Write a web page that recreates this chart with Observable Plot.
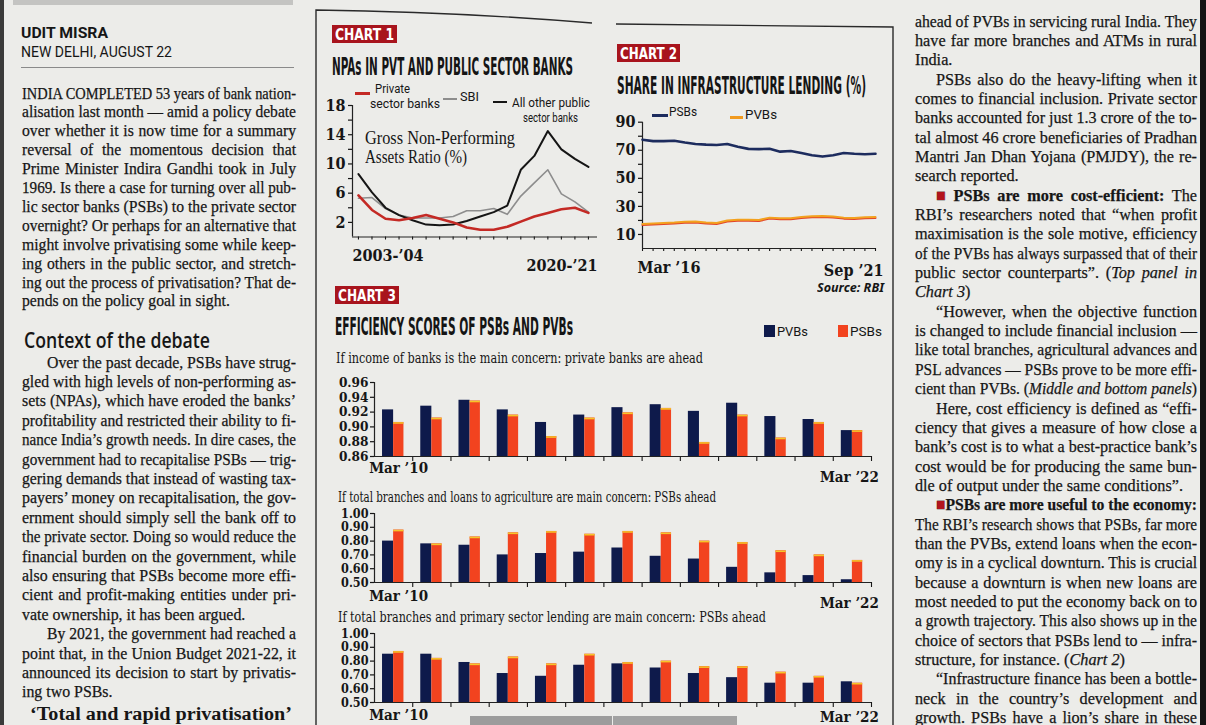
<!DOCTYPE html>
<html><head><meta charset="utf-8">
<script src="https://cdn.jsdelivr.net/npm/d3@7"></script>
<script src="https://cdn.jsdelivr.net/npm/@observablehq/plot@0.6"></script>
<style>
html,body{margin:0;padding:0;}
body{width:1206px;height:725px;overflow:hidden;position:relative;background:#ecece9;color:#161616;}
svg{overflow:visible;}
.col{-webkit-text-stroke:0.25px #161616;}
</style></head><body>
<script>
// ---------------- DATA ----------------
// Chart 1: Gross NPA ratio (%)
const npaYears = ["2003-04","2004-05","2005-06","2006-07","2007-08","2008-09","2009-10","2010-11","2011-12","2012-13","2013-14","2014-15","2015-16","2016-17","2017-18","2018-19","2019-20","2020-21"];
const npaPrivate = [5.7,3.7,2.5,2.3,2.6,3.0,2.5,2.0,1.3,1.0,1.0,1.4,2.1,2.8,3.3,3.8,4.0,3.3];
const npaSBI     = [5.3,5.4,3.9,3.0,2.6,2.6,2.6,2.8,3.6,3.6,3.9,3.1,5.6,7.4,9.2,5.9,4.8,3.4];
const npaOther   = [8.6,6.1,4.0,3.0,2.3,1.7,1.6,1.7,2.2,2.8,3.4,4.3,9.2,11.1,14.5,12.0,10.7,9.6];
const npaTickLabels = [2,6,10,14,18];
const npaEndLabels = ["2003-’04","2020-’21"];

// Chart 2: Share in infrastructure lending (%)
const infraQuarters = ["Mar-16","Jun-16","Sep-16","Dec-16","Mar-17","Jun-17","Sep-17","Dec-17","Mar-18","Jun-18","Sep-18","Dec-18","Mar-19","Jun-19","Sep-19","Dec-19","Mar-20","Jun-20","Sep-20","Dec-20","Mar-21","Jun-21","Sep-21"];
const infraPSB = [77.5,76.5,76.5,76.8,75.5,74.5,74.0,73.8,74.5,72.5,71.0,70.8,71.0,69.0,69.5,68.0,66.5,65.5,66.5,68.0,67.5,67.2,67.5];
const infraPVB = [17.5,17.8,18.2,18.5,19.0,19.3,18.5,18.2,20.0,20.5,20.5,20.3,22.0,21.5,21.5,22.5,23.0,23.2,22.8,22.0,21.8,22.2,22.5];
const infraTickLabels = [10,30,50,70,90];
const infraEndLabels = ["Mar ’16","Sep ’21"];

// Chart 3: Efficiency scores
const effYears = ["Mar’10","Mar’11","Mar’12","Mar’13","Mar’14","Mar’15","Mar’16","Mar’17","Mar’18","Mar’19","Mar’20","Mar’21","Mar’22"];
const effEndLabels = ["Mar ’10","Mar ’22"];
const incomePVB = [0.923,0.928,0.936,0.923,0.906,0.916,0.926,0.930,0.921,0.932,0.914,0.910,0.895];
const incomePSB = [0.906,0.912,0.935,0.916,0.887,0.912,0.919,0.925,0.879,0.916,0.885,0.906,0.895];
const agriPVB = [0.80,0.78,0.77,0.70,0.71,0.72,0.75,0.69,0.67,0.61,0.57,0.55,0.52];
const agriPSB = [0.88,0.78,0.83,0.86,0.87,0.85,0.87,0.86,0.80,0.79,0.73,0.70,0.66];
const primPVB = [0.85,0.85,0.79,0.71,0.69,0.77,0.78,0.75,0.71,0.68,0.64,0.64,0.65];
const primPSB = [0.87,0.82,0.78,0.83,0.78,0.85,0.79,0.80,0.76,0.76,0.72,0.69,0.64];
const incomeTicks = [0.86,0.88,0.90,0.92,0.94,0.96];
const shareTicks = [0.50,0.60,0.70,0.80,0.90,1.00];

// ---------------- TEXT ----------------
const leftP1 = [
 "INDIA COMPLETED 53 years of bank nation-",
 "alisation last month — amid a policy debate",
 "over whether it is now time for a summary",
 "reversal of the momentous decision that",
 "Prime Minister Indira Gandhi took in July",
 "1969. Is there a case for turning over all pub-",
 "lic sector banks (PSBs) to the private sector",
 "overnight? Or perhaps for an alternative that",
 "might involve privatising some while keep-",
 "ing others in the public sector, and stretch-",
 "ing out the process of privatisation? That de-",
 "pends on the policy goal in sight."];
const leftP2 = [
 "Over the past decade, PSBs have strug-",
 "gled with high levels of non-performing as-",
 "sets (NPAs), which have eroded the banks’",
 "profitability and restricted their ability to fi-",
 "nance India’s growth needs. In dire cases, the",
 "government had to recapitalise PSBs — trig-",
 "gering demands that instead of wasting tax-",
 "payers’ money on recapitalisation, the gov-",
 "ernment should simply sell the bank off to",
 "the private sector. Doing so would reduce the",
 "financial burden on the government, while",
 "also ensuring that PSBs become more effi-",
 "cient and profit-making entities under pri-",
 "vate ownership, it has been argued.",
 "By 2021, the government had reached a",
 "point that, in the Union Budget 2021-22, it",
 "announced its decision to start by privatis-",
 "ing two PSBs."];
const leftP2Indent = [0,14];
const leftP2Last = [13,17];
const sq = '<span style="color:#b3141d">■</span>';
const rightCol = [
 "ahead of PVBs in servicing rural India. They",
 "have far more branches and ATMs in rural",
 "India.",
 "PSBs also do the heavy-lifting when it",
 "comes to financial inclusion. Private sector",
 "banks accounted for just 1.3 crore of the to-",
 "tal almost 46 crore beneficiaries of Pradhan",
 "Mantri Jan Dhan Yojana (PMJDY), the re-",
 "search reported.",
 sq+" <b>PSBs are more cost-efficient:</b> The",
 "RBI’s researchers noted that “when profit",
 "maximisation is the sole motive, efficiency",
 "of the PVBs has always surpassed that of their",
 "public sector counterparts”. (<i>Top panel in</i>",
 "<i>Chart 3</i>)",
 "“However, when the objective function",
 "is changed to include financial inclusion —",
 "like total branches, agricultural advances and",
 "PSL advances — PSBs prove to be more effi-",
 "cient than PVBs. (<i>Middle and bottom panels</i>)",
 "Here, cost efficiency is defined as “effi-",
 "ciency that gives a measure of how close a",
 "bank’s cost is to what a best-practice bank’s",
 "cost would be for producing the same bun-",
 "dle of output under the same conditions”.",
 sq+"<b>PSBs are more useful to the economy:</b>",
 "The RBI’s research shows that PSBs, far more",
 "than the PVBs, extend loans when the econ-",
 "omy is in a cyclical downturn. This is crucial",
 "because a downturn is when new loans are",
 "most needed to put the economy back on to",
 "a growth trajectory. This also shows up in the",
 "choice of sectors that PSBs lend to — infra-",
 "structure, for instance. (<i>Chart 2</i>)",
 "“Infrastructure finance has been a bottle-",
 "neck in the country’s development and",
 "growth. PSBs have a lion’s share in these"];
const rightIndent = [3,9,15,20,25,34];
const rightLast = [2,8,14,24,33];

// ---------------- HELPERS ----------------
const BODY = "'Liberation Serif','DejaVu Serif',serif";
const CSERIF = "'DejaVu Serif Condensed','DejaVu Serif',serif";
const NARROW = "'Liberation Sans Narrow','DejaVu Sans Condensed','Roboto',sans-serif";
const SANS = "'Roboto','Liberation Sans',sans-serif";
const TICKF = "'DejaVu Serif Condensed','DejaVu Serif',serif";
const page = document.body;
function box(css){const e=document.createElement("div");Object.assign(e.style,{position:"absolute"},css);page.appendChild(e);return e;}
function txt(html,x,cy,o={}){
  const size=o.size||16, lh=o.lh||Math.round(size*1.25);
  const d=box({left:x+"px",top:(cy-lh/2)+"px",lineHeight:lh+"px",fontSize:size+"px",fontFamily:o.font||BODY,
    fontWeight:o.weight||"normal",fontStyle:o.fstyle||"normal",color:o.color||"#161616",whiteSpace:"nowrap",transformOrigin:"0 50%",letterSpacing:(o.ls||0)+"px"});
  if(o.cls) d.className=o.cls;
  const s=document.createElement("span");s.innerHTML=html;d.appendChild(s);
  if(o.w){const w=s.getBoundingClientRect().width; d.style.transform=`scaleX(${o.w/w})`;}
  return d;
}
function column(lines,x0,indentX,right,cy0,lh,size,indents,lasts){
  const items=lines.map((h,i)=>{
    const x=indents.includes(i)?indentX:x0;
    const d=txt(h,x,cy0+i*lh,{size,lh:Math.round(lh),cls:"col"});
    const s=d.firstChild; const w=s.getBoundingClientRect().width;
    return {d,w,W:right-x,last:lasts.includes(i),n:(s.textContent.match(/ /g)||[]).length};
  });
  const ratios=items.filter(t=>!t.last).map(t=>t.W/t.w).sort((a,b)=>a-b);
  const m=Math.min(1,ratios[Math.floor(ratios.length/2)]);
  items.forEach(t=>{
    if(t.last){t.d.style.transform=`scaleX(${m})`;return;}
    const target=t.W/m;
    if(t.w<target&&t.n){t.d.style.wordSpacing=((target-t.w)/t.n)+"px";t.d.style.transform=`scaleX(${m})`;}
    else t.d.style.transform=`scaleX(${t.W/t.w})`;
  });
}
function mount(svg,x,y){svg.style.position="absolute";svg.style.left=x+"px";svg.style.top=y+"px";page.appendChild(svg);}
function chartTag(label,x,y,w,h){
  box({left:x+"px",top:y+"px",width:w+"px",height:h+"px",background:"#a8141d"});
  txt(label,x+3,y+h/2+0.5,{font:NARROW,weight:"bold",size:16,color:"#fff",w:w-6});
}
const axStyle={background:"transparent",fontFamily:TICKF,fontWeight:"bold",fontSize:"15px",color:"#161616",overflow:"visible"};

// ---------------- PAGE DECOR ----------------
box({left:"0px",top:"0px",width:"4px",height:"725px",background:"#3a3a3a"});
box({left:"1200px",top:"0px",width:"6px",height:"725px",background:"#141414"});
box({left:"13px",top:"0px",width:"280px",height:"5px",background:"#c4c4c2"});
box({left:"21px",top:"67px",width:"273px",height:"1px",background:"#8a8a8a"});
box({left:"470px",top:"716px",width:"142px",height:"12px",background:"#9c9c9c"});
box({left:"613px",top:"716px",width:"124px",height:"12px",background:"#a2a2a2"});
const ns="http://www.w3.org/2000/svg";
const frame=document.createElementNS(ns,"svg");
frame.setAttribute("width","1206");frame.setAttribute("height","725");
frame.style.cssText="position:absolute;left:0;top:0;pointer-events:none";
frame.innerHTML='<path d="M316,725 L316,10 Q460,12 592,23" fill="none" stroke="#2a2a2a" stroke-width="1.4"/><path d="M616,24 L893,27 L893,725" fill="none" stroke="#2a2a2a" stroke-width="1.4"/>';
page.appendChild(frame);

// ---------------- LEFT & RIGHT TEXT ----------------
txt("UDIT MISRA",21,33,{font:SANS,weight:"bold",size:15,w:87});
txt("NEW DELHI, AUGUST 22",21,52,{font:SANS,size:15,w:151});
column(leftP1,22,22,296,93,18.9,17,[],[11]);
txt("Context of the debate",24,340,{font:"'Open Sans','Noto Sans',sans-serif",weight:"600",size:21,w:186});
column(leftP2,22,47,296,362,19.4,17,leftP2Indent,leftP2Last);
txt("‘Total and rapid privatisation’",30,714,{font:BODY,weight:"bold",size:18,w:262});
column(rightCol,915,936,1197,21,19.35,17,rightIndent,rightLast);

// ---------------- CHART 1 ----------------
chartTag("CHART 1",332,25,65,18);
txt("NPAs IN PVT AND PUBLIC SECTOR BANKS",332,67,{font:NARROW,weight:"bold",size:24,w:241,color:"#151515"});
box({left:"355px",top:"92px",width:"15px",height:"3px",background:"#c42a25"});
txt("Private",375,89,{font:SANS,size:12.5,w:35});
txt("sector banks",370,104,{font:SANS,size:12.5,w:70});
box({left:"443px",top:"98px",width:"14px",height:"2px",background:"#8d8d8d"});
txt("SBI",460,97,{font:SANS,size:12.5,w:19});
box({left:"493px",top:"101px",width:"14px",height:"2px",background:"#151515"});
txt("All other public",512,103,{font:SANS,size:12.5,w:78});
txt("sector banks",523,118,{font:SANS,size:12.5,w:55});
txt("Gross Non-Performing",365,138,{font:BODY,size:19,w:150});
txt("Assets Ratio (%)",365,157,{font:BODY,size:19,w:102});

const npaIdx = npaYears.map((_,i)=>i);
const npaPt = arr => arr.map((v,i)=>({i,v}));
mount(Plot.plot({
  width:285,height:180,marginLeft:32,marginRight:8,marginTop:10,marginBottom:38.5,
  x:{domain:[-0.44,npaYears.length-1+0.67]},y:{domain:[0,18]},style:axStyle,
  marks:[
    Plot.axisY({ticks:d3.range(2,19,2),tickSize:4,tickPadding:3,label:null,strokeWidth:1.2,
      tickFormat:d=>npaTickLabels.includes(d)?String(d):"",fontSize:16}),
    Plot.axisX({ticks:npaIdx,tickSize:3,tickFormat:()=>"",label:null,strokeWidth:1.1}),
    Plot.ruleX([-0.44],{stroke:"#222",strokeWidth:1.2}),
    Plot.ruleY([0],{stroke:"#222",strokeWidth:1.2}),
    Plot.line(npaPt(npaSBI),{x:"i",y:"v",stroke:"#8d8d8d",strokeWidth:1.6}),
    Plot.line(npaPt(npaOther),{x:"i",y:"v",stroke:"#151515",strokeWidth:2}),
    Plot.line(npaPt(npaPrivate),{x:"i",y:"v",stroke:"#c42a25",strokeWidth:2.6}),
    Plot.text([npaEndLabels[0]],{x:-0.44,y:0,text:d=>d,textAnchor:"start",dy:19,fontSize:16}),
    Plot.text([npaEndLabels[1]],{x:npaYears.length-1+0.67,y:0,text:d=>d,textAnchor:"end",dy:29,fontSize:16})
  ]
}),320,95);

// ---------------- CHART 2 ----------------
chartTag("CHART 2",617,44,63,18);
txt("SHARE IN INFRASTRUCTURE LENDING (%)",617,86,{font:NARROW,weight:"bold",size:24,w:249,color:"#151515"});
box({left:"652px",top:"114px",width:"16px",height:"3px",background:"#1d2c5e"});
txt("PSBs",669,112,{font:SANS,size:13,w:28});
box({left:"730px",top:"116px",width:"13px",height:"3px",background:"#f19a1e"});
txt("PVBs",745,115,{font:SANS,size:13,w:32});
txt("Source: RBI",817,287,{font:"'Noto Sans','DejaVu Sans',sans-serif",weight:"bold",fstyle:"italic",size:12,w:67});

const infraIdx = infraQuarters.map((_,i)=>i);
const q = arr => arr.map((v,i)=>({i,v}));
mount(Plot.plot({
  width:285,height:170,marginLeft:27,marginRight:25,marginTop:11.7,marginBottom:32,
  x:{domain:[0,infraQuarters.length-1]},y:{domain:[0,90]},style:axStyle,
  marks:[
    Plot.axisY({ticks:d3.range(10,91,10),tickSize:4,tickPadding:3,label:null,strokeWidth:1.2,
      tickFormat:d=>infraTickLabels.includes(d)?String(d):"",fontSize:16}),
    Plot.axisX({ticks:infraIdx,tickSize:3,tickFormat:()=>"",label:null,strokeWidth:1.1}),
    Plot.ruleX([0],{stroke:"#222",strokeWidth:1.2}),
    Plot.ruleY([0],{stroke:"#222",strokeWidth:1.2}),
    Plot.line(q(infraPSB),{x:"i",y:"v",stroke:"#1d2c5e",strokeWidth:2.6}),
    Plot.line(q(infraPVB),{x:"i",y:"v",stroke:"#e2452a",strokeWidth:2,dy:1}),
    Plot.line(q(infraPVB),{x:"i",y:"v",stroke:"#f3a21f",strokeWidth:2}),
    Plot.text([infraEndLabels[0]],{x:0,y:0,text:d=>d,textAnchor:"start",dx:-5,dy:19,fontSize:16}),
    Plot.text([infraEndLabels[1]],{x:infraQuarters.length-1,y:0,text:d=>d,textAnchor:"end",dx:8,dy:22,fontSize:16})
  ]
}),615,110);

// ---------------- CHART 3 ----------------
chartTag("CHART 3",335,286,64,18);
txt("EFFICIENCY SCORES OF PSBs AND PVBs",335,327,{font:NARROW,weight:"bold",size:24,w:238,color:"#151515"});
box({left:"764px",top:"325px",width:"11px",height:"12px",background:"#0e1a4b"});
txt("PVBs",777,331,{font:SANS,size:13.5,w:31});
box({left:"838px",top:"325px",width:"10px",height:"12px",background:"#f2431f"});
txt("PSBs",850,331,{font:SANS,size:13.5,w:32});

const NAVY="#0e1a4b", ORANGE="#f2431f", YEL="#f6c52a";
function effPanel(pvb,psb,ticks,top,H,mt,mb,dyL,dyR,tfs){
  const ymin=ticks[0], ymax=ticks[ticks.length-1];
  const a=pvb.map((v,i)=>({i,v})), b=psb.map((v,i)=>({i,v}));
  const n=effYears.length;
  mount(Plot.plot({
    width:560,height:H,marginLeft:44,marginRight:19,marginTop:mt,marginBottom:mb,
    x:{domain:[-0.5,n-0.5]},y:{domain:[ymin,ymax]},style:{...axStyle,fontSize:"14px"},
    marks:[
      Plot.rect(a,{x1:d=>d.i-0.29,x2:d=>d.i,y1:ymin,y2:"v",fill:NAVY}),
      Plot.rect(b,{x1:d=>d.i,x2:d=>d.i+0.27,y1:ymin,y2:"v",fill:ORANGE}),
      Plot.ruleY(b,{x1:d=>d.i,x2:d=>d.i+0.27,y:"v",stroke:YEL,strokeWidth:1.6,dy:0.5}),
      Plot.axisY({ticks,tickSize:4,tickPadding:2,label:null,strokeWidth:1.2,tickFormat:d=>d.toFixed(2),fontSize:tfs}),
      Plot.axisX({ticks:d3.range(0.5,n,1),tickSize:5,tickFormat:()=>"",label:null,strokeWidth:1.1}),
      Plot.ruleX([-0.5],{stroke:"#222",strokeWidth:1.2}),
      Plot.ruleY([ymin],{stroke:"#222",strokeWidth:1.2}),
      Plot.text([effEndLabels[0]],{x:0,y:ymin,text:d=>d,dx:5,dy:dyL,fontSize:15}),
      Plot.text([effEndLabels[1]],{x:n-1,y:ymin,text:d=>d,dx:-3,dy:dyR,fontSize:15})
    ]
  }),330,top);
}
txt("If income of banks is the main concern: private banks are ahead",336,358,{font:CSERIF,size:15,w:367});
effPanel(incomePVB,incomePSB,incomeTicks,370,115,12,29,12,21,13.5);
txt("If total branches and loans to agriculture are main concern: PSBs ahead",338,497,{font:CSERIF,size:15,w:378});
effPanel(agriPVB,agriPSB,shareTicks,500,112,13,30,14,21,12.5);
txt("If total branches and primary sector lending are main concern: PSBs ahead",338,617,{font:CSERIF,size:15,w:428});
effPanel(primPVB,primPSB,shareTicks,620,105,13,23,13,15,12.5);
</script>
</body></html>
